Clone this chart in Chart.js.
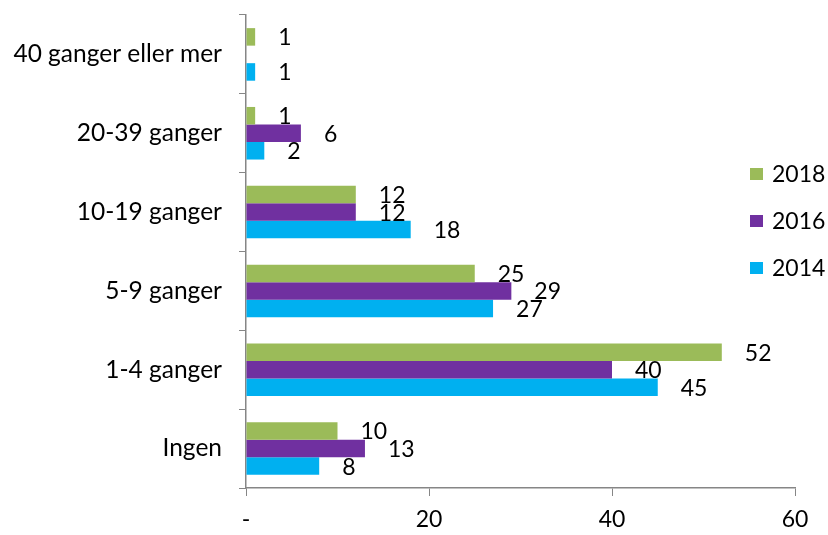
<!DOCTYPE html>
<html>
<head>
<meta charset="utf-8">
<script src="https://cdn.jsdelivr.net/npm/chart.js@4.4.1/dist/chart.umd.min.js"></script>
<style>
  html, body { margin: 0; padding: 0; background: #fff; }
  #wrap { width: 828px; height: 535px; }
</style>
</head>
<body>
<div id="wrap"><canvas id="grafAntall" width="828" height="535"></canvas></div>
<script>
// kategorier, ovenfra og ned
var kategorier = ['40 ganger eller mer', '20-39 ganger', '10-19 ganger', '5-9 ganger', '1-4 ganger', 'Ingen']
var aarstall = ['2018', '2016', '2014']
var verdier2018 = [1, 1, 12, 25, 52, 10]
var verdier2016 = [null, 6, 12, 29, 40, 13]
var verdier2014 = [1, 2, 18, 27, 45, 8]
var xTicks = [0, 20, 40, 60]
var farger = ['#9BBB59', '#7030A0', '#00B0F0']

var skrift = 'Lato, "Liberation Sans", sans-serif'
var akseFarge = '#868686'

// verdier til høyre for hver stolpe
var verdiEtiketter = {
    id: 'verdiEtiketter',
    afterDatasetsDraw: function (chart) {
        var ctx = chart.ctx
        ctx.save()
        ctx.font = '23px ' + skrift
        ctx.fillStyle = '#000'
        ctx.textAlign = 'left'
        ctx.textBaseline = 'middle'
        chart.data.datasets.forEach(function (ds, i) {
            var meta = chart.getDatasetMeta(i)
            meta.data.forEach(function (bar, j) {
                if (ds.data[j] == null) return
                ctx.fillText(String(ds.data[j]), bar.x + 23, bar.y + 1)
            })
        })
        ctx.restore()
    }
}

// forklaring inne i plottet, til høyre
var forklaring = {
    id: 'forklaring',
    afterDraw: function (chart) {
        var ctx = chart.ctx
        var x = chart.chartArea.right - 45
        var y = 174
        ctx.save()
        ctx.font = '23px ' + skrift
        ctx.textBaseline = 'middle'
        chart.data.datasets.forEach(function (ds) {
            ctx.fillStyle = ds.backgroundColor
            ctx.fillRect(x, y - 6, 13, 12)
            ctx.fillStyle = '#000'
            ctx.fillText(ds.label, x + 22, y + 1)
            y += 47
        })
        ctx.restore()
    }
}

var datasett = [verdier2018, verdier2016, verdier2014].map(function (v, i) {
    return {
        label: aarstall[i],
        data: v,
        backgroundColor: farger[i],
        categoryPercentage: 0.667,
        barPercentage: 1.0
    }
})

var myChart = new Chart(document.getElementById('grafAntall'), {
    type: 'bar',
    data: { labels: kategorier, datasets: datasett },
    options: {
        indexAxis: 'y',
        responsive: false,
        animation: false,
        layout: { padding: { top: 15, right: 33, left: 0, bottom: 0 } },
        plugins: {
            legend: { display: false },
            tooltip: { enabled: false }
        },
        scales: {
            x: {
                min: 0,
                max: 60,
                afterBuildTicks: function (scale) {
                    scale.ticks = xTicks.map(function (t) { return { value: t } })
                },
                afterFit: function (scale) { scale.height = 47 },
                grid: { drawOnChartArea: false, tickLength: 8, color: akseFarge },
                border: { color: akseFarge, width: 1.5 },
                ticks: {
                    color: '#000',
                    font: { family: skrift, size: 23 },
                    padding: 10,
                    maxRotation: 0,
                    callback: function (v) { return v === 0 ? '-' : v }
                }
            },
            y: {
                afterFit: function (scale) {
                    scale.width = 246
                    scale.paddingTop = 0
                    scale.paddingBottom = 0
                },
                grid: { drawOnChartArea: false, offset: true, tickLength: 7, color: akseFarge },
                border: { color: akseFarge, width: 1.5 },
                ticks: {
                    color: '#000',
                    font: { family: skrift, size: 24.5 },
                    padding: 17
                }
            }
        }
    },
    plugins: [verdiEtiketter, forklaring]
})
</script>
</body>
</html>
